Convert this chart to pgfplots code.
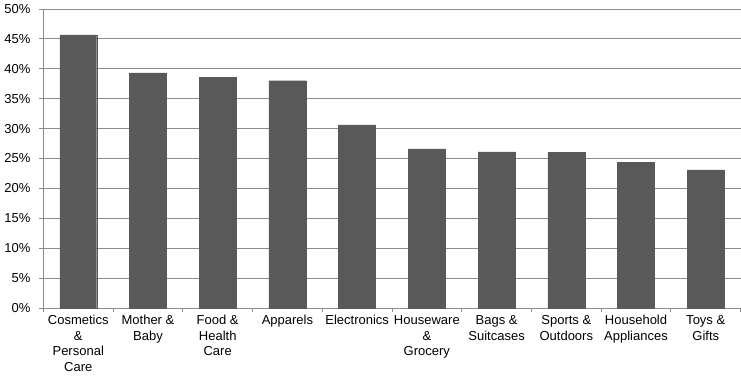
\documentclass[border=0pt]{standalone}
\usepackage{pgfplots}
\pgfplotsset{compat=1.18}
\usepackage{fontspec}
\setmainfont{Liberation Sans}
\definecolor{barc}{HTML}{595959}
\definecolor{gridc}{HTML}{8C8C8C}
\begin{document}
\fontsize{13bp}{15.5bp}\selectfont
\begin{tikzpicture}
\begin{axis}[
  scale only axis,
  width=697bp, height=299bp,
  xmin=-0.5, xmax=9.5,
  ymin=0, ymax=50,
  ytick={0,5,...,50},
  yticklabel={\pgfmathprintnumber{\tick}\%},
  /pgf/number format/assume math mode=true,
  ymajorgrids,
  grid style={gridc, line width=0.8pt},
  axis line style={gridc, line width=0.8pt},
  axis x line=bottom,
  axis y line=left,
  x axis line style={-},
  y axis line style={-},
  tick style={gridc, line width=0.8pt},
  tick align=outside,
  major tick length=4bp,
  minor tick length=4bp,
  xtick={0,...,9},
  x tick style={draw=none},
  minor xtick={-0.5,0.5,...,9.5},
  minor x tick style={draw=gridc, line width=0.8pt},
  xticklabels={{Cosmetics\\\&\\Personal\\Care},{Mother \&\\Baby},{Food \&\\Health\\Care},{Apparels},{Electronics},{Houseware\\\&\\Grocery},{Bags \&\\Suitcases},{Sports \&\\Outdoors},{Household\\Appliances},{Toys \&\\Gifts}},
  xticklabel style={align=center, font=\fontsize{13bp}{15.5bp}\selectfont, yshift=1bp},
  yticklabel style={font=\fontsize{13bp}{15.5bp}\selectfont, xshift=-4.5bp},
  ybar, bar width=0.53,
  bar shift=0,
]
\addplot[fill=barc, draw=barc] coordinates {
(0,45.65) (1,39.3) (2,38.6) (3,38.0) (4,30.6) (5,26.6) (6,26.1) (7,26.0) (8,24.4) (9,23.1)};
\end{axis}
\end{tikzpicture}
\end{document}
